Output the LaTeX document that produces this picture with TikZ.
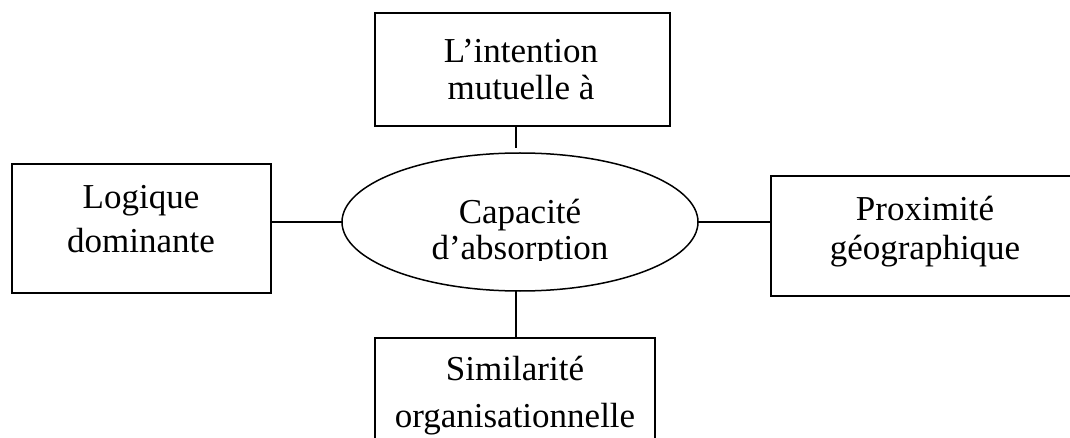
\documentclass[tikz,border=0pt]{standalone}
\usepackage{fontspec}
\setmainfont{Liberation Serif}
\usetikzlibrary{shapes.geometric}
\begin{document}
\begin{tikzpicture}[x=1pt,y=-1pt,
  box/.style={draw,line width=1.6pt,inner sep=0pt,outer sep=0pt,rectangle},
  oval/.style={draw,line width=1.5pt,inner sep=0pt,outer sep=0pt,ellipse},
  txt/.style={anchor=base,inner sep=0pt,font=\fontsize{35}{42}\selectfont},
  conn/.style={line width=1.4pt}]
\useasboundingbox (0,0) rectangle (1070,438);
% boxes
\node[box,minimum width=295pt,minimum height=113pt] (tb) at (522.5,69.5) {};
\node[box,minimum width=259pt,minimum height=129pt] (lb) at (141.5,228.5) {};
\node[box,minimum width=309pt,minimum height=120pt] (rb) at (925.5,236) {};
\node[box,minimum width=280pt,minimum height=132pt] (bb) at (515,404) {};
\node[oval,minimum width=356pt,minimum height=138pt] (el) at (520,222) {};
% texts
\node[txt] (t1) at (521,63) {L’intention};
\node[txt] (t2) at (521,100) {mutuelle à};
\node[txt] (l1) at (141,209) {Logique};
\node[txt] (l2) at (141,252) {dominante};
\node[txt] (r1) at (925,221) {Proximité};
\node[txt] (r2) at (925,260) {géographique};
\node[txt] (b1) at (515,380) {Similarité};
\node[txt] (b2) at (515,427) {organisationnelle};
\node[txt] (c1) at (520,224) {Capacité};
\begin{scope}
  \clip (300,230) rectangle (740,261);
  \node[txt] (c2) at (520,260) {d’absorption};
\end{scope}
% connectors
\coordinate (tt) at (516,148);
\coordinate (bt) at (516,291);
\draw[conn] (tt |- tb.south) -- (tt);
\draw[conn] (bt) -- (bt |- bb.north);
\draw[conn] (el.west) -- (el.west -| lb.east);
\draw[conn] (el.east) -- (el.east -| rb.west);
\end{tikzpicture}
\end{document}
